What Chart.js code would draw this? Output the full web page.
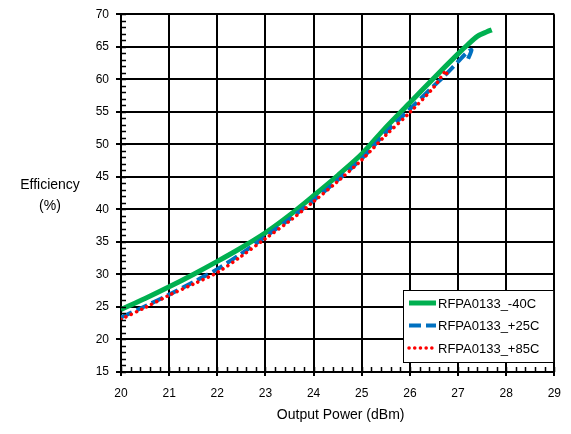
<!DOCTYPE html>
<html>
<head>
<meta charset="utf-8">
<script src="https://cdn.jsdelivr.net/npm/chart.js@4"></script>
<style>
  html, body { margin:0; padding:0; background:#fff; }
  #wrap { width:571px; height:434px; }
</style>
</head>
<body>
<div id="wrap"><canvas id="c" width="571" height="434"></canvas></div>
<script>
// values, x = output power (dBm), y = efficiency (%)
const seriesNames = ['RFPA0133_-40C', 'RFPA0133_+25C', 'RFPA0133_+85C'];

const xM40 = [20, 20.5, 21, 21.5, 22, 22.5, 23, 23.5, 24, 24.5, 25, 25.5, 26, 26.5, 27, 27.2, 27.4, 27.6, 27.7];
const yM40 = [24.6, 26.3, 28.1, 30.0, 32.0, 34.1, 36.4, 39.1, 42.1, 45.2, 48.5, 52.6, 56.4, 60.2, 63.9, 65.3, 66.6, 67.3, 67.6];

const xP25 = [20, 20.5, 21, 21.5, 22, 22.5, 23, 23.5, 24, 24.5, 25, 25.5, 26, 26.5, 26.7, 27, 27.2, 27.28, 27.2];
const yP25 = [23.4, 25.1, 26.9, 28.8, 30.8, 33.2, 35.8, 38.5, 41.4, 44.5, 47.8, 51.8, 55.4, 59.0, 60.4, 62.7, 64.2, 64.5, 63.0];

const xP85 = [20, 20.5, 21, 21.5, 22, 22.5, 23, 23.5, 24, 24.5, 25, 25.5, 26, 26.5, 26.75, 26.77];
const yP85 = [23.1, 24.9, 26.8, 28.5, 30.3, 32.8, 35.5, 38.2, 41.2, 44.3, 47.6, 51.4, 54.9, 58.8, 61.3, 60.3];

const xTicks = [20, 21, 22, 23, 24, 25, 26, 27, 28, 29];
const yTicks = [15, 20, 25, 30, 35, 40, 45, 50, 55, 60, 65, 70];

const FONT = "'Liberation Sans', Arial, sans-serif";
const toPts = (xs, ys) => xs.map((x, i) => ({ x, y: ys[i] }));

const minorTicks = {
  id: 'minorTicks',
  afterDatasetsDraw(chart) {
    const { ctx, chartArea: a, scales: { x, y } } = chart;
    ctx.save();
    ctx.strokeStyle = '#000'; ctx.lineWidth = 1.5;
    ctx.beginPath();
    for (let v = xTicks[0]; v <= xTicks[xTicks.length-1] + 1e-6; v += 0.2) {
      const px = Math.round(x.getPixelForValue(v)) + 0.5;
      ctx.moveTo(px, a.bottom); ctx.lineTo(px, a.bottom - 5);
    }
    for (let v = yTicks[0]; v <= yTicks[yTicks.length-1]; v += 1) {
      const py = Math.round(y.getPixelForValue(v)) + 0.5;
      ctx.moveTo(a.left, py); ctx.lineTo(a.left + 5, py);
    }
    ctx.stroke();
    ctx.restore();
  }
};

const titles = {
  id: 'titles',
  afterDraw(chart) {
    const { ctx, chartArea: a } = chart;
    ctx.save();
    ctx.fillStyle = '#000';
    ctx.font = '14px ' + FONT;
    ctx.textAlign = 'center'; ctx.textBaseline = 'middle';
    ctx.fillText('Efficiency', 50, 185);
    ctx.fillText('(%)', 50, 206);
    ctx.fillText('Output Power (dBm)', (a.left + a.right) / 2 + 3, 415);
    ctx.restore();
  }
};

const boxLegend = {
  id: 'boxLegend',
  afterDraw(chart) {
    const { ctx, chartArea: a } = chart;
    const left = 403, top = 290, right = a.right - 1, bottom = 362;
    ctx.save();
    ctx.fillStyle = '#fff';
    ctx.fillRect(left, top, right - left, bottom - top);
    ctx.strokeStyle = '#000'; ctx.lineWidth = 1;
    ctx.strokeRect(left + 0.5, top + 0.5, right - left, bottom - top);
    ctx.font = '13px ' + FONT;
    ctx.textAlign = 'left'; ctx.textBaseline = 'middle';
    chart.data.datasets.forEach((ds, i) => {
      const yy = 303 + i * 22.5;
      ctx.beginPath();
      ctx.strokeStyle = ds.borderColor;
      ctx.lineWidth = ds.borderWidth;
      ctx.lineCap = ds.borderCapStyle || 'butt';
      ctx.setLineDash(ds.borderDash || []);
      ctx.moveTo(409, yy); ctx.lineTo(436, yy);
      ctx.stroke();
      ctx.setLineDash([]);
      ctx.fillStyle = '#000';
      ctx.fillText(ds.label, 438, yy + 1);
    });
    ctx.restore();
  }
};

new Chart(document.getElementById('c'), {
  type: 'scatter',
  data: {
    datasets: [
      { label: seriesNames[0], data: toPts(xM40, yM40), showLine: true, borderColor: '#00b050',
        borderWidth: 5, pointRadius: 0, tension: 0.3, order: 3 },
      { label: seriesNames[1], data: toPts(xP25, yP25), showLine: true, borderColor: '#0070c0',
        borderWidth: 4, borderDash: [12, 5], pointRadius: 0, tension: 0.3, order: 2 },
      { label: seriesNames[2], data: toPts(xP85, yP85), showLine: true, borderColor: '#ff0000',
        borderWidth: 3.5, borderDash: [0.1, 5.6], borderCapStyle: 'round', pointRadius: 0, tension: 0.3, order: 1 }
    ]
  },
  options: {
    responsive: false, animation: false,
    layout: { padding: { top: 12, right: 15, left: 0, bottom: 0 } },
    plugins: { legend: { display: false }, tooltip: { enabled: false } },
    scales: {
      x: {
        type: 'linear', min: 20, max: 29,
        afterBuildTicks: s => { s.ticks = xTicks.map(v => ({ value: v })); },
        afterFit: s => { s.height = 62; },
        grid: { color: '#000', lineWidth: 2, tickLength: 4 },
        border: { color: '#000', width: 2 },
        ticks: { color: '#000', font: { family: FONT, size: 12 }, padding: 10, maxRotation: 0 }
      },
      y: {
        type: 'linear', min: 15, max: 70,
        afterBuildTicks: s => { s.ticks = yTicks.map(v => ({ value: v })); },
        afterFit: s => { s.width = 121; },
        grid: { color: '#000', lineWidth: 2, tickLength: 5 },
        border: { color: '#000', width: 2 },
        ticks: { color: '#000', font: { family: FONT, size: 12 }, padding: 7 }
      }
    }
  },
  plugins: [minorTicks, titles, boxLegend]
});
</script>
</body>
</html>
